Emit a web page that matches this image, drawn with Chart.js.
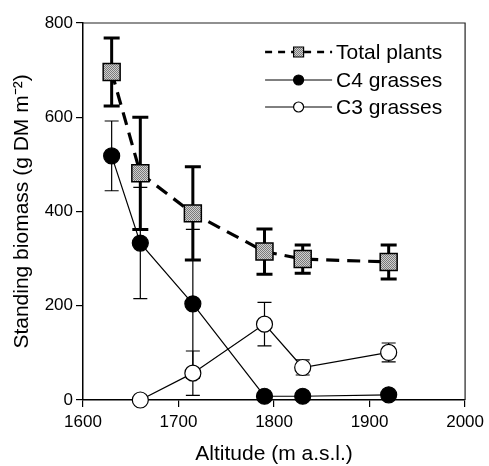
<!DOCTYPE html>
<html><head><meta charset="utf-8">
<script src="https://cdn.jsdelivr.net/npm/chart.js@4"></script>
<style>html,body{margin:0;padding:0;background:#fff}#wrap{width:489px;height:466px}</style>
</head><body><div id="wrap"><canvas id="c" width="489" height="466"></canvas></div>
<script>
const altitudes = [1630, 1660, 1715, 1790, 1830, 1920];
const totalPlants = [696, 481, 396, 315, 299, 293];
const totalErr = [72, 119, 99, 48, 30, 36];
const c4Grasses = [518, 333, 204, 8, 8, 11];
const c4Err = [74, 118, 158, 0, 0, 0];
const c3Grasses = [null, 0, 57, 161, 69, 101];
const c3Err = [null, 0, 47, 46, 16, 20];
const xTicks = [1600, 1700, 1800, 1900, 2000];
const yTicks = [0, 200, 400, 600, 800];
const seriesLabels = ['Total plants', 'C4 grasses', 'C3 grasses'];
const xTitle = 'Altitude (m a.s.l.)';
const yTitle = 'Standing biomass (g DM m\u207B\u00B2)';

const FONT = "'Liberation Sans', Arial, sans-serif";
const canvas = document.getElementById('c');
const ctx0 = canvas.getContext('2d');
function stipple() {
  const p = document.createElement('canvas');
  p.width = 2; p.height = 2;
  const g = p.getContext('2d');
  g.fillStyle = '#cfcfcf'; g.fillRect(0, 0, 2, 2);
  g.fillStyle = '#7a7a7a'; g.fillRect(0, 0, 1, 1); g.fillRect(1, 1, 1, 1);
  return ctx0.createPattern(p, 'repeat');
}
const grayFill = stipple();

function pts(vals) {
  return altitudes.map((a, i) => ({x: a, y: vals[i]})).filter(p => p.y !== null);
}

const errorBarPlugin = {
  id: 'errorBars',
  beforeDatasetsDraw(chart) {
    const ctx = chart.ctx, xs = chart.scales.x, ys = chart.scales.y;
    chart.data.datasets.forEach((ds) => {
      const eb = ds.errorBars;
      if (!eb) return;
      ctx.save();
      ctx.strokeStyle = '#000';
      ctx.lineWidth = eb.width;
      altitudes.forEach((a, i) => {
        const v = eb.values[i], e = eb.errors[i];
        if (v === null || e === null || !e) return;
        const x = xs.getPixelForValue(a);
        const yt = ys.getPixelForValue(v + e);
        const yb = ys.getPixelForValue(v - e);
        ctx.beginPath();
        ctx.moveTo(x, yt); ctx.lineTo(x, yb);
        ctx.moveTo(x - eb.cap, yt); ctx.lineTo(x + eb.cap, yt);
        ctx.moveTo(x - eb.cap, yb); ctx.lineTo(x + eb.cap, yb);
        ctx.stroke();
      });
      ctx.restore();
    });
  }
};

const framePlugin = {
  id: 'frame',
  afterDraw(chart) {
    const {ctx, chartArea: a} = chart;
    ctx.save();
    ctx.strokeStyle = '#222';
    ctx.lineWidth = 1.2;
    ctx.beginPath();
    ctx.moveTo(a.left, a.top); ctx.lineTo(a.right, a.top); ctx.lineTo(a.right, a.bottom);
    ctx.stroke();
    ctx.restore();
  }
};

const legendPlugin = {
  id: 'insideLegend',
  afterDraw(chart) {
    const {ctx, chartArea: a} = chart;
    const x0 = a.right - 200, x1 = a.right - 133, xm = (x0 + x1) / 2, tx = a.right - 129;
    const rows = [a.top + 29, a.top + 57, a.top + 84];
    ctx.save();
    ctx.font = '21px ' + FONT;
    ctx.fillStyle = '#000';
    ctx.textBaseline = 'middle';
    ctx.textAlign = 'left';
    chart.data.datasets.forEach((ds, i) => {
      const y = rows[i];
      ctx.strokeStyle = '#000';
      ctx.lineWidth = ds.borderWidth > 2 ? 2.5 : 1;
      ctx.setLineDash(ds.borderDash && ds.borderDash.length ? [7, 6] : []);
      ctx.beginPath(); ctx.moveTo(x0, y); ctx.lineTo(x1, y); ctx.stroke();
      ctx.setLineDash([]);
      ctx.lineWidth = 1.2;
      ctx.fillStyle = ds.pointBackgroundColor;
      ctx.beginPath();
      if (ds.pointStyle === 'rect') {
        ctx.rect(xm - 5, y - 5, 10, 10);
      } else {
        ctx.arc(xm, y, 5, 0, Math.PI * 2);
      }
      ctx.fill(); ctx.stroke();
      ctx.fillStyle = '#000';
      ctx.fillText(ds.label, tx, y + 1);
    });
    ctx.restore();
  }
};

new Chart(canvas, {
  type: 'line',
  data: {
    datasets: [
      {
        label: seriesLabels[0], data: pts(totalPlants),
        borderColor: '#000', borderWidth: 3.2, borderDash: [13, 8],
        pointStyle: 'rect', pointRadius: 12, pointHoverRadius: 12,
        pointBackgroundColor: grayFill, pointBorderColor: '#000', pointBorderWidth: 1.5,
        clip: false, tension: 0,
        errorBars: {values: totalPlants, errors: totalErr, width: 3, cap: 8}
      },
      {
        label: seriesLabels[1], data: pts(c4Grasses),
        borderColor: '#000', borderWidth: 1.2,
        pointStyle: 'circle', pointRadius: 8, pointHoverRadius: 8,
        pointBackgroundColor: '#000', pointBorderColor: '#000', pointBorderWidth: 1.2,
        clip: false, tension: 0,
        errorBars: {values: c4Grasses, errors: c4Err, width: 1.2, cap: 7}
      },
      {
        label: seriesLabels[2], data: pts(c3Grasses),
        borderColor: '#000', borderWidth: 1.2,
        pointStyle: 'circle', pointRadius: 8, pointHoverRadius: 8,
        pointBackgroundColor: '#fff', pointBorderColor: '#000', pointBorderWidth: 1.2,
        clip: false, tension: 0,
        errorBars: {values: c3Grasses, errors: c3Err, width: 1.2, cap: 7}
      }
    ]
  },
  options: {
    responsive: false,
    animation: false,
    devicePixelRatio: 1,
    events: [],
    layout: {padding: {top: 23, right: 21, left: 0, bottom: 0}},
    plugins: {legend: {display: false}, tooltip: {enabled: false}},
    scales: {
      x: {
        type: 'linear', min: 1600, max: 2000,
        afterBuildTicks: s => { s.ticks = xTicks.map(v => ({value: v})); },
        afterFit: s => { s.height = 66; },
        ticks: {callback: v => String(v), color: '#000', font: {family: FONT, size: 17}, padding: 5, maxRotation: 0},
        grid: {drawOnChartArea: false, drawTicks: true, tickLength: 7, color: '#000', lineWidth: 1.2},
        border: {display: true, color: '#000', width: 1.5},
        title: {display: true, text: xTitle, color: '#000', font: {family: FONT, size: 21, lineHeight: 1.1}, padding: {top: 0, bottom: 0}}
      },
      y: {
        type: 'linear', min: 0, max: 800,
        afterBuildTicks: s => { s.ticks = yTicks.map(v => ({value: v})); },
        afterFit: s => { s.width = 83; },
        ticks: {callback: v => String(v), color: '#000', font: {family: FONT, size: 17}, padding: 3},
        grid: {drawOnChartArea: false, drawTicks: true, tickLength: 7, color: '#000', lineWidth: 1.2},
        border: {display: true, color: '#000', width: 1.5},
        title: {display: true, text: yTitle, color: '#000', font: {family: FONT, size: 21, lineHeight: 1.2}, padding: {top: 10, bottom: 0}}
      }
    }
  },
  plugins: [errorBarPlugin, framePlugin, legendPlugin]
});
</script>
</body></html>
